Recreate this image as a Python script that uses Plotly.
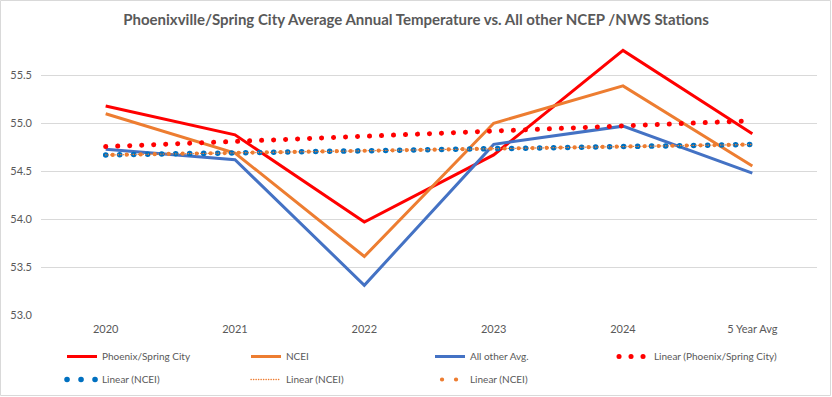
import numpy as np
import plotly.graph_objects as go

categories = ["2020", "2021", "2022", "2023", "2024", "5 Year Avg"]
phoenix = [55.18, 54.88, 53.97, 54.67, 55.76, 54.89]
ncei = [55.10, 54.69, 53.61, 55.00, 55.39, 54.555]
all_other = [54.73, 54.62, 53.31, 54.78, 54.97, 54.48]
y_ticks = [53.0, 53.5, 54.0, 54.5, 55.0, 55.5]

title = "Phoenixville/Spring City Average Annual Temperature vs. All other NCEP /NWS Stations"

xi = np.arange(len(categories))


def linear_trend(vals):
    m, b = np.polyfit(xi, np.array(vals), 1)
    return [b + m * xi[0], b + m * xi[-1]]


tr_phx = linear_trend(phoenix)
tr_ncei = linear_trend(ncei)
ends = [categories[0], categories[-1]]

FONT = "Lato, Liberation Sans, sans-serif"
GRAY = "#595959"

fig = go.Figure()
fig.add_trace(go.Scatter(x=categories, y=phoenix, name="Phoenix/Spring City", mode="lines",
                         line=dict(color="#FF0000", width=3), legend="legend"))
fig.add_trace(go.Scatter(x=categories, y=ncei, name="NCEI", mode="lines",
                         line=dict(color="#ED7D31", width=3), legend="legend"))
fig.add_trace(go.Scatter(x=categories, y=all_other, name="All other Avg.", mode="lines",
                         line=dict(color="#4472C4", width=3), legend="legend"))
fig.add_trace(go.Scatter(x=ends, y=tr_phx, name="Linear (Phoenix/Spring City)", mode="lines",
                         line=dict(color="#FF0000", width=5, dash="0.1px,11.9px"), legend="legend"))
fig.add_trace(go.Scatter(x=ends, y=tr_ncei, name="Linear (NCEI)", mode="lines",
                         line=dict(color="#0070C0", width=5.5, dash="0.1px,13.9px"), legend="legend2"))
fig.add_trace(go.Scatter(x=ends, y=tr_ncei, name="Linear (NCEI)", mode="lines",
                         line=dict(color="#ED7D31", width=1.3, dash="0.3px,2.2px"), legend="legend2"))
fig.add_trace(go.Scatter(x=ends, y=tr_ncei, name="Linear (NCEI)", mode="lines",
                         line=dict(color="#ED7D31", width=4.2, dash="0.1px,13.9px"), legend="legend2"))

W, H = 832, 397
L, R, T, B = 41, 15, 37, 82
pw, ph = W - L - R, H - T - B

leg_common = dict(orientation="h", x=0.0745, xanchor="left", yanchor="top",
                  xref="container", yref="container",
                  entrywidth=139, entrywidthmode="pixels", bgcolor="rgba(0,0,0,0)",
                  font=dict(family=FONT, size=10, color=GRAY), traceorder="normal")

fig.update_layout(
    width=W, height=H,
    margin=dict(l=L, r=R, t=T, b=B),
    paper_bgcolor="white", plot_bgcolor="white",
    font=dict(family=FONT, size=11, color=GRAY),
    title=dict(text="<b>" + title + "</b>", x=0.5, xanchor="center", xref="container",
               y=1 - 20 / H, yanchor="middle", yref="container",
               font=dict(family=FONT, size=15, color=GRAY)),
    showlegend=True,
    legend=dict(y=1 - 342 / H, **leg_common),
    legend2=dict(y=1 - 365 / H, **leg_common),
    xaxis=dict(type="category", range=[-0.5, 5.5], showgrid=False, showline=False,
               automargin=False, ticks="", ticklabelstandoff=6,
               tickfont=dict(size=11, color=GRAY), zeroline=False),
    yaxis=dict(range=[53.0, 55.9], tickvals=y_ticks, tickformat=".1f", showgrid=True,
               automargin=False, gridcolor="#D9D9D9", gridwidth=1, zeroline=False,
               showline=False, ticks="", ticklabelstandoff=8,
               tickfont=dict(size=11, color=GRAY)),
    shapes=[dict(type="rect", xref="paper", yref="paper",
                 x0=(0.5 - L) / pw, x1=(830.5 - L) / pw,
                 y0=-(395.5 - (T + ph)) / ph, y1=1 + (T - 0.5) / ph,
                 line=dict(color="#D9D9D9", width=1), fillcolor="rgba(0,0,0,0)", layer="below")],
)

post = """
document.body.style.margin = '0';
document.body.style.padding = '0';
function fixCaps(){
  var gd = document.getElementById('{plot_id}');
  gd.querySelectorAll('path').forEach(function(p){
    var da = p.style.strokeDasharray;
    if (da && da !== 'none' && da !== '') {
      p.style.strokeLinecap = 'round';
      var sw = parseFloat(p.style.strokeWidth);
      if (Math.abs(sw - 4.2) < 0.05) { p.style.strokeDashoffset = '-7px'; }
    }
  });
}
fixCaps();
var gd0 = document.getElementById('{plot_id}');
gd0.on('plotly_afterplot', fixCaps);
"""

fig.write_html("out.html", post_script=post, config={"displayModeBar": False})
